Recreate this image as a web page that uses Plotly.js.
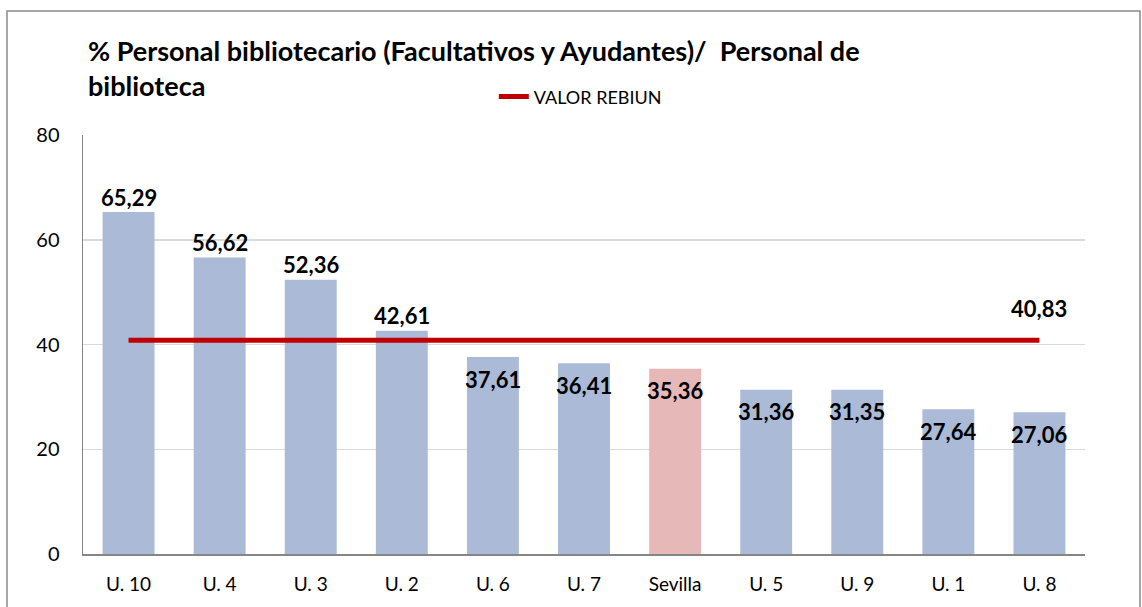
<!DOCTYPE html>
<html>
<head>
<meta charset="utf-8">
<script src="https://cdn.plot.ly/plotly-3.0.1.min.js"></script>
<style>html,body{margin:0;padding:0;background:#fff;}#chart{width:1142px;height:607px;}</style>
</head>
<body>
<div id="chart"></div>
<script>
const categories = ['U. 10','U. 4','U. 3','U. 2','U. 6','U. 7','Sevilla','U. 5','U. 9','U. 1','U. 8'];
const values = [65.29, 56.62, 52.36, 42.61, 37.61, 36.41, 35.36, 31.36, 31.35, 27.64, 27.06];
const rebiun = [40.83, 40.83, 40.83, 40.83, 40.83, 40.83, 40.83, 40.83, 40.83, 40.83, 40.83];
const yTicks = [0, 20, 40, 60, 80];
const highlight = 'Sevilla';

const FONT = 'Lato, "Open Sans", sans-serif';
const fmt = v => v.toFixed(2).replace('.', ',');
const refVal = rebiun[rebiun.length - 1];

const barColors = categories.map(c => c === highlight ? '#e6b9b8' : '#abbad7');

const bars = {
  type: 'bar', x: categories, y: values,
  marker: {color: barColors, line: {width: 0}},
  showlegend: false, hoverinfo: 'skip'
};
const line = {
  type: 'scatter', mode: 'lines', x: categories, y: rebiun,
  name: 'VALOR REBIUN',
  line: {color: '#c00000', width: 5},
  hoverinfo: 'skip'
};

const annotations = categories.map((c, i) => ({
  x: c, y: values[i], xref: 'x', yref: 'y',
  text: fmt(values[i]), showarrow: false,
  yshift: values[i] > refVal ? 15 : -22,
  font: {family: FONT, size: 22, color: '#000', weight: 'bold'}
}));
annotations.push({
  x: categories[categories.length - 1], y: refVal, xref: 'x', yref: 'y',
  text: fmt(refVal), showarrow: false, yshift: 32,
  font: {family: FONT, size: 22, color: '#000', weight: 'bold'}
});

const layout = {
  width: 1142, height: 607,
  margin: {l: 83, r: 57, t: 135, b: 53},
  paper_bgcolor: '#fff', plot_bgcolor: '#fff',
  bargap: 0.43,
  title: {
    text: '% Personal bibliotecario (Facultativos y Ayudantes)/  Personal de<br>biblioteca',
    x: 88/1142, xanchor: 'left', y: 1 - 61/607, yanchor: 'top',
    font: {family: FONT, size: 27, color: '#000', weight: 'bold'}
  },
  showlegend: true,
  legend: {
    orientation: 'h', x: 0.41, xanchor: 'left', y: 1.091, yanchor: 'middle',
    font: {family: FONT, size: 18, color: '#000'}, bgcolor: 'rgba(0,0,0,0)'
  },
  xaxis: {
    type: 'category', showgrid: false, showline: true, linecolor: '#868686', linewidth: 2,
    ticks: '', ticklabelstandoff: 12,
    tickfont: {family: FONT, size: 19, color: '#000'}, fixedrange: true
  },
  yaxis: {
    range: [0, 80], tickvals: yTicks, showgrid: true, gridcolor: '#d9d9d9', gridwidth: 1.5,
    showline: true, linecolor: '#868686', linewidth: 1.5, zeroline: false,
    ticks: '', ticklabelstandoff: 18,
    tickfont: {family: FONT, size: 20, color: '#000'}, fixedrange: true
  },
  annotations: annotations,
  shapes: [{
    type: 'rect', xref: 'paper', yref: 'paper',
    x0: (7-83)/1002, x1: (1140-83)/1002, y0: (554-615)/419, y1: (554-11)/419,
    line: {color: '#898989', width: 1.5}, layer: 'below'
  }]
};

Plotly.newPlot('chart', [bars, line], layout, {staticPlot: true, displayModeBar: false});
</script>
</body>
</html>
